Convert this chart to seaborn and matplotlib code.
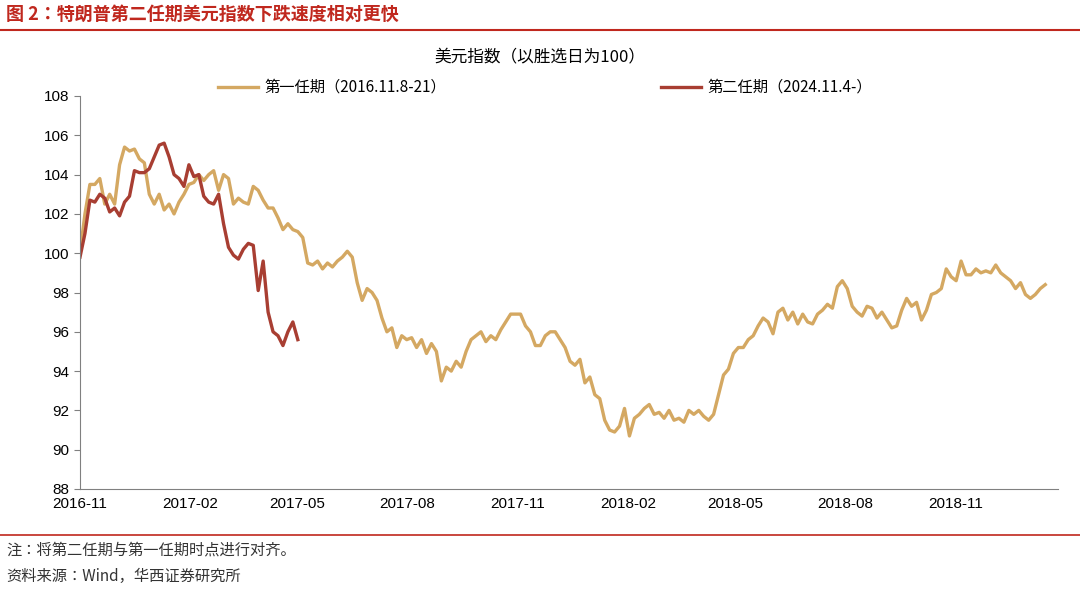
import matplotlib
matplotlib.use("Agg")
import matplotlib.pyplot as plt
from matplotlib import font_manager
import seaborn as sns
import pandas as pd

cjk = [f.name for f in font_manager.fontManager.ttflist if "CJK" in f.name]
pref = [n for n in ["Noto Sans CJK SC", "Noto Sans CJK JP", "Noto Sans CJK TC", "Noto Sans CJK KR"] if n in cjk]
cjk_font = pref[0] if pref else (cjk[0] if cjk else "DejaVu Sans")
plt.rcParams["font.family"] = [cjk_font, "DejaVu Sans"]
plt.rcParams["font.sans-serif"] = [cjk_font, "DejaVu Sans"]

title_main = "图 2：特朗普第二任期美元指数下跌速度相对更快"
chart_title = "美元指数（以胜选日为100）"
label1 = "第一任期（2016.11.8-21）"
label2 = "第二任期（2024.11.4-）"
note1 = "注：将第二任期与第一任期时点进行对齐。"
note2 = "资料来源：Wind，华西证券研究所"

start = "2016-11-01"
step_hours = 99  # sampling interval of the values below

term1 = [100, 102, 103.5, 103.5, 103.8, 102.5, 103, 102.5, 104.5, 105.4, 105.2, 105.3, 104.8, 104.6, 103, 102.5,
         103, 102.2, 102.5, 102, 102.6, 103, 103.5, 103.6, 104, 103.7, 104, 104.2, 103.2, 104, 103.8, 102.5,
         102.8, 102.6, 102.5, 103.4, 103.2, 102.7, 102.3, 102.3, 101.8, 101.2, 101.5, 101.2, 101.1, 100.8,
         99.5, 99.4, 99.6, 99.2, 99.5, 99.3, 99.6, 99.8, 100.1, 99.8, 98.5, 97.6, 98.2, 98, 97.6, 96.7, 96,
         96.2, 95.2, 95.8, 95.6, 95.7, 95.2, 95.6, 94.9, 95.4, 95, 93.5, 94.2, 94, 94.5, 94.2, 95, 95.6, 95.8,
         96, 95.5, 95.8, 95.6, 96.1, 96.5, 96.9, 96.9, 96.9, 96.3, 96, 95.3, 95.3, 95.8, 96, 96, 95.6, 95.2,
         94.5, 94.3, 94.6, 93.4, 93.7, 92.8, 92.6, 91.5, 91, 90.9, 91.2, 92.1, 90.7, 91.6, 91.8, 92.1, 92.3,
         91.8, 91.9, 91.6, 92, 91.5, 91.6, 91.4, 92, 91.8, 92, 91.7, 91.5, 91.8, 92.8, 93.8, 94.1, 94.9, 95.2,
         95.2, 95.6, 95.8, 96.3, 96.7, 96.5, 95.9, 97, 97.2, 96.6, 97, 96.4, 96.9, 96.5, 96.4, 96.9, 97.1,
         97.4, 97.2, 98.3, 98.6, 98.2, 97.3, 97, 96.8, 97.3, 97.2, 96.7, 97, 96.6, 96.2, 96.3, 97.1, 97.7,
         97.3, 97.5, 96.6, 97.1, 97.9, 98, 98.2, 99.2, 98.8, 98.6, 99.6, 98.9, 98.9, 99.2, 99, 99.1, 99, 99.4,
         99, 98.8, 98.6, 98.2, 98.5, 97.9, 97.7, 97.9, 98.2, 98.4]

term2 = [99.8, 101.0, 102.7, 102.6, 103.0, 102.8, 102.1, 102.3, 101.9, 102.6, 102.9, 104.2, 104.1, 104.1, 104.3,
         104.9, 105.5, 105.6, 104.9, 104.0, 103.8, 103.4, 104.5, 103.9, 104.0, 102.9, 102.6, 102.5, 103.0,
         101.5, 100.3, 99.9, 99.7, 100.2, 100.5, 100.4, 98.1, 99.6, 97.0, 96.0, 95.8, 95.3, 96.0, 96.5, 95.6]

d1 = pd.DataFrame({"date": pd.date_range(start, periods=len(term1), freq=f"{step_hours}h"), "v": term1, "s": label1})
d2 = pd.DataFrame({"date": pd.date_range(start, periods=len(term2), freq=f"{step_hours}h"), "v": term2, "s": label2})
df = pd.concat([d1, d2])

fig = plt.figure(figsize=(10.8, 5.94), dpi=100)
ax = fig.add_axes([80/1080, 1-489/594, (1058-80)/1080, (489-96)/594])
sns.lineplot(data=df, x="date", y="v", hue="s", palette={label1: "#D4A862", label2: "#A83E32"},
             linewidth=2.4, ax=ax, legend=False)

ax.set_ylim(88, 108)
ax.set_yticks(range(88, 109, 2))
ax.set_xlim(pd.Timestamp("2016-11-01"), pd.Timestamp("2019-01-25"))
ticks = pd.to_datetime(["2016-11-01", "2017-02-01", "2017-05-01", "2017-08-01", "2017-11-01",
                        "2018-02-01", "2018-05-01", "2018-08-01", "2018-11-01"])
ax.set_xticks(ticks)
ax.set_xticklabels([t.strftime("%Y-%m") for t in ticks])
ax.set_xlabel("")
ax.set_ylabel("")
for s in ["top", "right"]:
    ax.spines[s].set_visible(False)
for s in ["left", "bottom"]:
    ax.spines[s].set_color("#808080")
ax.tick_params(axis="both", labelsize=11, colors="#000000", length=4, color="#808080")
ax.tick_params(axis="x", length=0, pad=6)
for lbl in ax.get_xticklabels() + ax.get_yticklabels():
    lbl.set_fontfamily("Liberation Sans")

fig.text(0.5, 1-57/594, chart_title, ha="center", va="center", fontsize=12, fontfamily=cjk_font)
fig.add_artist(plt.Line2D([218/1080, 258/1080], [1-87/594]*2, color="#D4A862", lw=2.4))
fig.text(264/1080, 1-87/594, label1, va="center", fontsize=11, fontfamily=cjk_font)
fig.add_artist(plt.Line2D([661/1080, 701/1080], [1-87/594]*2, color="#A83E32", lw=2.4))
fig.text(707/1080, 1-87/594, label2, va="center", fontsize=11, fontfamily=cjk_font)

fig.text(6/1080, 1-14/594, title_main, color="#C0281E", fontsize=13, va="center", weight="bold", fontfamily=cjk_font)
fig.add_artist(plt.Line2D([0, 1], [1-30/594]*2, color="#C0281E", lw=1.5))
fig.add_artist(plt.Line2D([0, 1], [1-535/594]*2, color="#C0281E", lw=1.2))
fig.text(6/1080, 1-550/594, note1, fontsize=11, va="center", color="#333333", fontfamily=cjk_font)
fig.text(6/1080, 1-576/594, note2, fontsize=11, va="center", color="#333333", fontfamily=cjk_font)

fig.savefig("out.png", dpi=100)
